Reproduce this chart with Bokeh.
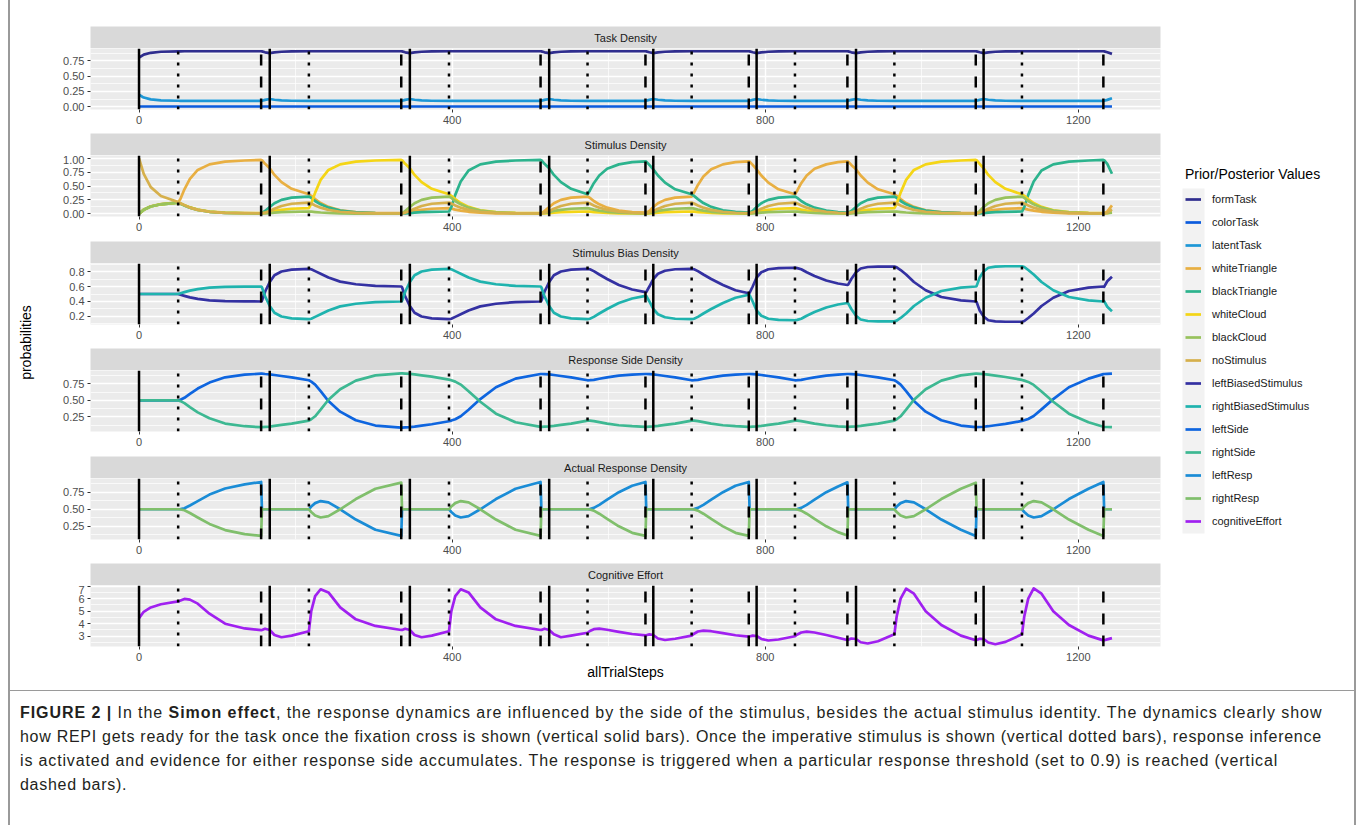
from bokeh.plotting import figure
from bokeh.models import (Range1d, FixedTicker, NumeralTickFormatter, Label, Legend,
                          LegendItem, BoxAnnotation, Div)
from bokeh.layouts import row, column
from bokeh.embed import file_html
from bokeh.resources import INLINE

# ------------------------------------------------------------------ data
steps = [
    0, 6, 15, 28, 50, 53, 58, 65, 75, 90, 110, 135, 156, 157, 161,
    167, 173, 182, 195, 217, 220, 225, 232, 242, 257, 277, 302, 335, 336, 340,
    346, 352, 361, 374, 396, 399, 404, 411, 421, 436, 456, 481, 513, 514, 518,
    524, 530, 539, 552, 573, 576, 581, 588, 598, 613, 630, 647, 648, 652,
    657, 663, 672, 685, 706, 709, 714, 721, 731, 746, 762, 779, 780, 784,
    789, 795, 804, 817, 838, 841, 846, 853, 863, 878, 893, 905, 906, 910,
    916, 922, 931, 944, 965, 968, 973, 980, 990, 1005, 1025, 1050, 1069, 1070, 1074,
    1079, 1085, 1094, 1107, 1128, 1131, 1136, 1143, 1153, 1168, 1188, 1213, 1232, 1233, 1237, 1243,
]
fixation_steps = [0, 167, 346, 524, 657, 789, 916, 1079]
stimulus_steps = [50, 217, 396, 573, 706, 838, 965, 1128]
response_steps = [156, 335, 513, 647, 779, 905, 1069, 1232]

formTask = [
    0.800, 0.850, 0.880, 0.897, 0.903, 0.904, 0.905, 0.905, 0.905, 0.905, 0.905, 0.905, 0.905, 0.903, 0.888,
    0.874, 0.886, 0.897, 0.903, 0.905, 0.905, 0.905, 0.905, 0.905, 0.905, 0.905, 0.905, 0.905, 0.903, 0.888,
    0.874, 0.886, 0.897, 0.903, 0.905, 0.905, 0.905, 0.905, 0.905, 0.905, 0.905, 0.905, 0.905, 0.903, 0.888,
    0.874, 0.886, 0.897, 0.903, 0.905, 0.905, 0.905, 0.905, 0.905, 0.905, 0.905, 0.905, 0.903, 0.888,
    0.874, 0.886, 0.897, 0.903, 0.905, 0.905, 0.905, 0.905, 0.905, 0.905, 0.905, 0.905, 0.903, 0.888,
    0.874, 0.886, 0.897, 0.903, 0.905, 0.905, 0.905, 0.905, 0.905, 0.905, 0.905, 0.905, 0.903, 0.888,
    0.874, 0.886, 0.897, 0.903, 0.905, 0.905, 0.905, 0.905, 0.905, 0.905, 0.905, 0.905, 0.905, 0.903, 0.888,
    0.874, 0.886, 0.897, 0.903, 0.905, 0.905, 0.905, 0.905, 0.905, 0.905, 0.905, 0.905, 0.905, 0.903, 0.888, 0.862,
]
colorTask_steps = [0, 1243]
colorTask = [0.004, 0.004]
latentTask = [
    0.195, 0.150, 0.120, 0.104, 0.098, 0.097, 0.096, 0.095, 0.095, 0.095, 0.095, 0.095, 0.095, 0.097, 0.112,
    0.126, 0.114, 0.103, 0.098, 0.095, 0.095, 0.095, 0.095, 0.095, 0.095, 0.095, 0.095, 0.095, 0.097, 0.112,
    0.126, 0.114, 0.103, 0.098, 0.095, 0.095, 0.095, 0.095, 0.095, 0.095, 0.095, 0.095, 0.095, 0.097, 0.112,
    0.126, 0.114, 0.103, 0.098, 0.095, 0.095, 0.095, 0.095, 0.095, 0.095, 0.095, 0.095, 0.097, 0.112,
    0.126, 0.114, 0.103, 0.098, 0.095, 0.095, 0.095, 0.095, 0.095, 0.095, 0.095, 0.095, 0.097, 0.112,
    0.126, 0.114, 0.103, 0.098, 0.095, 0.095, 0.095, 0.095, 0.095, 0.095, 0.095, 0.095, 0.097, 0.112,
    0.126, 0.114, 0.103, 0.098, 0.095, 0.095, 0.095, 0.095, 0.095, 0.095, 0.095, 0.095, 0.095, 0.097, 0.112,
    0.126, 0.114, 0.103, 0.098, 0.095, 0.095, 0.095, 0.095, 0.095, 0.095, 0.095, 0.095, 0.095, 0.097, 0.112, 0.138,
]

whiteTriangle = [
    0.000, 0.074, 0.134, 0.174, 0.204, 0.270, 0.440, 0.630, 0.790, 0.890, 0.940, 0.960, 0.970, 0.965, 0.900,
    0.820, 0.700, 0.570, 0.450, 0.350, 0.322, 0.263, 0.193, 0.123, 0.063, 0.028, 0.014, 0.011, 0.011, 0.015,
    0.030, 0.050, 0.070, 0.090, 0.100, 0.092, 0.075, 0.055, 0.035, 0.018, 0.008, 0.004, 0.003, 0.003, 0.050,
    0.120, 0.190, 0.250, 0.290, 0.310, 0.285, 0.230, 0.170, 0.110, 0.056, 0.028, 0.019, 0.019, 0.050,
    0.120, 0.190, 0.250, 0.290, 0.310, 0.380, 0.520, 0.670, 0.800, 0.890, 0.930, 0.945, 0.940, 0.880,
    0.800, 0.690, 0.560, 0.440, 0.350, 0.420, 0.550, 0.690, 0.810, 0.890, 0.930, 0.945, 0.940, 0.880,
    0.800, 0.690, 0.560, 0.440, 0.350, 0.322, 0.263, 0.193, 0.123, 0.063, 0.028, 0.014, 0.011, 0.011, 0.015,
    0.030, 0.050, 0.070, 0.090, 0.100, 0.092, 0.075, 0.055, 0.035, 0.018, 0.008, 0.004, 0.003, 0.003, 0.040, 0.150,
]
blackTriangle = [
    0.000, 0.070, 0.130, 0.170, 0.200, 0.180, 0.150, 0.110, 0.070, 0.035, 0.016, 0.009, 0.007, 0.008, 0.050,
    0.120, 0.190, 0.250, 0.290, 0.310, 0.285, 0.230, 0.170, 0.110, 0.056, 0.025, 0.012, 0.009, 0.009, 0.008,
    0.010, 0.020, 0.030, 0.035, 0.040, 0.120, 0.340, 0.580, 0.780, 0.890, 0.940, 0.960, 0.970, 0.965, 0.900,
    0.820, 0.700, 0.570, 0.450, 0.350, 0.420, 0.550, 0.690, 0.810, 0.890, 0.930, 0.945, 0.940, 0.880,
    0.800, 0.690, 0.560, 0.440, 0.350, 0.322, 0.263, 0.193, 0.123, 0.063, 0.032, 0.021, 0.021, 0.050,
    0.120, 0.190, 0.250, 0.290, 0.310, 0.285, 0.230, 0.170, 0.110, 0.056, 0.028, 0.019, 0.019, 0.050,
    0.120, 0.190, 0.250, 0.290, 0.310, 0.285, 0.230, 0.170, 0.110, 0.056, 0.025, 0.012, 0.009, 0.009, 0.008,
    0.010, 0.020, 0.030, 0.035, 0.040, 0.120, 0.340, 0.580, 0.780, 0.890, 0.940, 0.960, 0.970, 0.965, 0.900, 0.720,
]
whiteCloud = [
    0.000, 0.070, 0.130, 0.170, 0.200, 0.185, 0.155, 0.115, 0.075, 0.040, 0.020, 0.012, 0.010, 0.010, 0.015,
    0.030, 0.050, 0.070, 0.090, 0.100, 0.180, 0.380, 0.610, 0.790, 0.890, 0.940, 0.960, 0.970, 0.965, 0.900,
    0.820, 0.700, 0.570, 0.450, 0.350, 0.322, 0.263, 0.193, 0.123, 0.063, 0.028, 0.014, 0.011, 0.011, 0.008,
    0.010, 0.020, 0.030, 0.035, 0.040, 0.037, 0.030, 0.022, 0.014, 0.007, 0.004, 0.002, 0.002, 0.005,
    0.010, 0.020, 0.030, 0.035, 0.040, 0.037, 0.030, 0.022, 0.014, 0.007, 0.004, 0.002, 0.002, 0.015,
    0.030, 0.050, 0.070, 0.090, 0.100, 0.092, 0.075, 0.055, 0.035, 0.018, 0.009, 0.006, 0.006, 0.015,
    0.030, 0.050, 0.070, 0.090, 0.100, 0.180, 0.380, 0.610, 0.790, 0.890, 0.940, 0.960, 0.970, 0.965, 0.900,
    0.820, 0.700, 0.570, 0.450, 0.350, 0.322, 0.263, 0.193, 0.123, 0.063, 0.028, 0.014, 0.011, 0.011, 0.012, 0.030,
]
blackCloud = [
    0.000, 0.070, 0.130, 0.170, 0.200, 0.180, 0.150, 0.110, 0.070, 0.035, 0.016, 0.009, 0.007, 0.007, 0.008,
    0.010, 0.020, 0.030, 0.035, 0.040, 0.037, 0.030, 0.022, 0.014, 0.007, 0.003, 0.002, 0.001, 0.001, 0.050,
    0.120, 0.190, 0.250, 0.290, 0.310, 0.285, 0.230, 0.170, 0.110, 0.056, 0.025, 0.012, 0.009, 0.009, 0.015,
    0.030, 0.050, 0.070, 0.090, 0.100, 0.092, 0.075, 0.055, 0.035, 0.018, 0.009, 0.006, 0.006, 0.015,
    0.030, 0.050, 0.070, 0.090, 0.100, 0.092, 0.075, 0.055, 0.035, 0.018, 0.009, 0.006, 0.006, 0.005,
    0.010, 0.020, 0.030, 0.035, 0.040, 0.037, 0.030, 0.022, 0.014, 0.007, 0.004, 0.002, 0.002, 0.005,
    0.010, 0.020, 0.030, 0.035, 0.040, 0.037, 0.030, 0.022, 0.014, 0.007, 0.003, 0.002, 0.001, 0.001, 0.050,
    0.120, 0.190, 0.250, 0.290, 0.310, 0.285, 0.230, 0.170, 0.110, 0.056, 0.025, 0.012, 0.009, 0.009, 0.012, 0.020,
]
noStimulus = [
    1.000, 0.720, 0.480, 0.320, 0.210, 0.190, 0.155, 0.110, 0.070, 0.035, 0.017, 0.010, 0.008, 0.008, 0.020,
    0.050, 0.090, 0.140, 0.180, 0.200, 0.184, 0.150, 0.110, 0.070, 0.036, 0.016, 0.008, 0.006, 0.006, 0.020,
    0.050, 0.090, 0.140, 0.180, 0.200, 0.184, 0.150, 0.110, 0.070, 0.036, 0.016, 0.008, 0.006, 0.006, 0.020,
    0.050, 0.090, 0.140, 0.180, 0.200, 0.184, 0.150, 0.110, 0.070, 0.036, 0.018, 0.012, 0.012, 0.025,
    0.050, 0.090, 0.140, 0.180, 0.200, 0.184, 0.150, 0.110, 0.070, 0.036, 0.018, 0.012, 0.012, 0.025,
    0.050, 0.090, 0.140, 0.180, 0.200, 0.184, 0.150, 0.110, 0.070, 0.036, 0.018, 0.012, 0.012, 0.025,
    0.050, 0.090, 0.140, 0.180, 0.200, 0.184, 0.150, 0.110, 0.070, 0.036, 0.016, 0.008, 0.006, 0.006, 0.020,
    0.050, 0.090, 0.140, 0.180, 0.200, 0.184, 0.150, 0.110, 0.070, 0.036, 0.016, 0.008, 0.006, 0.006, 0.020, 0.080,
]

leftBiasedStimulus = [
    0.500, 0.500, 0.500, 0.500, 0.500, 0.490, 0.475, 0.455, 0.435, 0.415, 0.405, 0.401, 0.400, 0.410, 0.530,
    0.660, 0.750, 0.800, 0.825, 0.835, 0.830, 0.805, 0.770, 0.720, 0.665, 0.630, 0.608, 0.600, 0.590, 0.470,
    0.340, 0.250, 0.200, 0.175, 0.165, 0.170, 0.195, 0.230, 0.280, 0.335, 0.370, 0.392, 0.400, 0.410, 0.530,
    0.660, 0.750, 0.800, 0.825, 0.835, 0.830, 0.805, 0.760, 0.700, 0.620, 0.560, 0.525, 0.525, 0.600,
    0.700, 0.770, 0.810, 0.830, 0.835, 0.830, 0.805, 0.760, 0.700, 0.620, 0.550, 0.510, 0.515, 0.600,
    0.720, 0.790, 0.830, 0.845, 0.850, 0.845, 0.830, 0.790, 0.740, 0.680, 0.640, 0.620, 0.625, 0.700,
    0.790, 0.840, 0.860, 0.865, 0.865, 0.855, 0.820, 0.760, 0.660, 0.550, 0.460, 0.415, 0.400, 0.395, 0.280,
    0.200, 0.150, 0.135, 0.130, 0.130, 0.140, 0.180, 0.240, 0.340, 0.450, 0.540, 0.585, 0.600, 0.595, 0.670, 0.730,
]
rightBiasedStimulus = [
    0.500, 0.500, 0.500, 0.500, 0.500, 0.510, 0.525, 0.545, 0.565, 0.585, 0.595, 0.599, 0.600, 0.590, 0.470,
    0.340, 0.250, 0.200, 0.175, 0.165, 0.170, 0.195, 0.230, 0.280, 0.335, 0.370, 0.392, 0.400, 0.410, 0.530,
    0.660, 0.750, 0.800, 0.825, 0.835, 0.830, 0.805, 0.770, 0.720, 0.665, 0.630, 0.608, 0.600, 0.590, 0.470,
    0.340, 0.250, 0.200, 0.175, 0.165, 0.170, 0.195, 0.240, 0.300, 0.380, 0.440, 0.475, 0.475, 0.400,
    0.300, 0.230, 0.190, 0.170, 0.165, 0.170, 0.195, 0.240, 0.300, 0.380, 0.450, 0.490, 0.485, 0.400,
    0.280, 0.210, 0.170, 0.155, 0.150, 0.155, 0.170, 0.210, 0.260, 0.320, 0.360, 0.380, 0.375, 0.300,
    0.210, 0.160, 0.140, 0.135, 0.135, 0.145, 0.180, 0.240, 0.340, 0.450, 0.540, 0.585, 0.600, 0.605, 0.720,
    0.800, 0.850, 0.865, 0.870, 0.870, 0.860, 0.820, 0.760, 0.660, 0.550, 0.460, 0.415, 0.400, 0.405, 0.330, 0.270,
]

leftSide = [
    0.500, 0.500, 0.500, 0.500, 0.500, 0.510, 0.540, 0.600, 0.680, 0.770, 0.850, 0.890, 0.905, 0.905, 0.900,
    0.895, 0.885, 0.870, 0.850, 0.805, 0.785, 0.740, 0.640, 0.490, 0.330, 0.200, 0.120, 0.090, 0.090, 0.093,
    0.097, 0.105, 0.120, 0.140, 0.185, 0.195, 0.215, 0.260, 0.360, 0.520, 0.700, 0.830, 0.900, 0.900, 0.897,
    0.893, 0.885, 0.870, 0.850, 0.805, 0.806, 0.812, 0.828, 0.850, 0.875, 0.890, 0.900, 0.900, 0.897,
    0.893, 0.885, 0.870, 0.850, 0.805, 0.806, 0.812, 0.828, 0.850, 0.875, 0.890, 0.900, 0.900, 0.897,
    0.893, 0.885, 0.870, 0.850, 0.805, 0.806, 0.812, 0.828, 0.850, 0.875, 0.892, 0.900, 0.900, 0.897,
    0.893, 0.885, 0.870, 0.850, 0.805, 0.785, 0.740, 0.640, 0.490, 0.330, 0.200, 0.120, 0.095, 0.095, 0.098,
    0.102, 0.110, 0.125, 0.145, 0.190, 0.200, 0.220, 0.265, 0.365, 0.520, 0.700, 0.830, 0.898, 0.900, 0.902, 0.905,
]
rightSide = [
    0.500, 0.500, 0.500, 0.500, 0.500, 0.490, 0.460, 0.400, 0.320, 0.230, 0.150, 0.110, 0.095, 0.095, 0.100,
    0.105, 0.115, 0.130, 0.150, 0.195, 0.215, 0.260, 0.360, 0.510, 0.670, 0.800, 0.880, 0.910, 0.910, 0.907,
    0.903, 0.895, 0.880, 0.860, 0.815, 0.805, 0.785, 0.740, 0.640, 0.480, 0.300, 0.170, 0.100, 0.100, 0.103,
    0.107, 0.115, 0.130, 0.150, 0.195, 0.194, 0.188, 0.172, 0.150, 0.125, 0.110, 0.100, 0.100, 0.103,
    0.107, 0.115, 0.130, 0.150, 0.195, 0.194, 0.188, 0.172, 0.150, 0.125, 0.110, 0.100, 0.100, 0.103,
    0.107, 0.115, 0.130, 0.150, 0.195, 0.194, 0.188, 0.172, 0.150, 0.125, 0.108, 0.100, 0.100, 0.103,
    0.107, 0.115, 0.130, 0.150, 0.195, 0.215, 0.260, 0.360, 0.510, 0.670, 0.800, 0.880, 0.905, 0.905, 0.902,
    0.898, 0.890, 0.875, 0.855, 0.810, 0.800, 0.780, 0.735, 0.635, 0.480, 0.300, 0.170, 0.102, 0.100, 0.098, 0.095,
]

leftResp = [
    0.500, 0.500, 0.500, 0.500, 0.500, 0.503, 0.515, 0.555, 0.620, 0.715, 0.805, 0.865, 0.900, 0.500, 0.500,
    0.500, 0.500, 0.500, 0.500, 0.500, 0.540, 0.590, 0.620, 0.600, 0.500, 0.350, 0.200, 0.110, 0.500, 0.500,
    0.500, 0.500, 0.500, 0.500, 0.500, 0.460, 0.410, 0.380, 0.400, 0.500, 0.650, 0.800, 0.900, 0.500, 0.500,
    0.500, 0.500, 0.500, 0.500, 0.500, 0.503, 0.520, 0.565, 0.640, 0.750, 0.845, 0.900, 0.500, 0.500,
    0.500, 0.500, 0.500, 0.500, 0.500, 0.503, 0.520, 0.565, 0.640, 0.750, 0.845, 0.900, 0.500, 0.500,
    0.500, 0.500, 0.500, 0.500, 0.500, 0.503, 0.520, 0.565, 0.640, 0.750, 0.835, 0.895, 0.500, 0.500,
    0.500, 0.500, 0.500, 0.500, 0.500, 0.540, 0.590, 0.620, 0.600, 0.500, 0.350, 0.200, 0.110, 0.500, 0.500,
    0.500, 0.500, 0.500, 0.500, 0.500, 0.460, 0.410, 0.380, 0.400, 0.500, 0.650, 0.800, 0.900, 0.500, 0.500, 0.500,
]
rightResp = [
    0.500, 0.500, 0.500, 0.500, 0.500, 0.497, 0.485, 0.445, 0.380, 0.285, 0.195, 0.135, 0.110, 0.500, 0.500,
    0.500, 0.500, 0.500, 0.500, 0.500, 0.460, 0.410, 0.380, 0.400, 0.500, 0.650, 0.800, 0.890, 0.500, 0.500,
    0.500, 0.500, 0.500, 0.500, 0.500, 0.540, 0.590, 0.620, 0.600, 0.500, 0.350, 0.200, 0.110, 0.500, 0.500,
    0.500, 0.500, 0.500, 0.500, 0.500, 0.497, 0.480, 0.435, 0.360, 0.250, 0.155, 0.110, 0.500, 0.500,
    0.500, 0.500, 0.500, 0.500, 0.500, 0.497, 0.480, 0.435, 0.360, 0.250, 0.155, 0.110, 0.500, 0.500,
    0.500, 0.500, 0.500, 0.500, 0.500, 0.497, 0.480, 0.435, 0.360, 0.250, 0.165, 0.115, 0.500, 0.500,
    0.500, 0.500, 0.500, 0.500, 0.500, 0.460, 0.410, 0.380, 0.400, 0.500, 0.650, 0.800, 0.890, 0.500, 0.500,
    0.500, 0.500, 0.500, 0.500, 0.500, 0.540, 0.590, 0.620, 0.600, 0.500, 0.350, 0.200, 0.110, 0.500, 0.500, 0.500,
]

cognitiveEffort = [
    4.45, 4.95, 5.30, 5.55, 5.78, 5.85, 5.98, 5.92, 5.60, 4.80, 4.00, 3.62, 3.48, 3.50, 3.60,
    3.50, 3.10, 2.92, 3.05, 3.40, 5.00, 6.20, 6.75, 6.50, 5.30, 4.35, 3.82, 3.50, 3.50, 3.60,
    3.50, 3.10, 2.92, 3.05, 3.40, 5.00, 6.20, 6.75, 6.50, 5.30, 4.35, 3.82, 3.50, 3.50, 3.60,
    3.50, 3.15, 2.92, 3.05, 3.28, 3.42, 3.56, 3.60, 3.52, 3.35, 3.18, 3.07, 3.08, 3.15,
    3.10, 2.82, 2.70, 2.80, 3.05, 3.20, 3.38, 3.45, 3.40, 3.25, 3.08, 2.97, 2.98, 3.05,
    3.02, 2.78, 2.66, 2.74, 3.00, 3.14, 3.30, 3.37, 3.30, 3.10, 2.88, 2.70, 2.72, 2.82,
    2.78, 2.52, 2.42, 2.60, 3.15, 4.60, 6.00, 6.80, 6.40, 5.00, 3.90, 3.05, 2.68, 2.70, 2.80,
    2.78, 2.50, 2.36, 2.55, 3.15, 4.60, 6.00, 6.82, 6.40, 5.00, 3.90, 3.05, 2.67, 2.68, 2.75, 2.85,
]

series_names = ["formTask", "colorTask", "latentTask", "whiteTriangle", "blackTriangle",
                "whiteCloud", "blackCloud", "noStimulus", "leftBiasedStimulus",
                "rightBiasedStimulus", "leftSide", "rightSide", "leftResp", "rightResp",
                "cognitiveEffort"]
series_colors = ["#2F2D8E", "#0B5BDD", "#1D97D6", "#E8AF42", "#2CB38D",
                 "#F4D516", "#98C25D", "#D6B04C", "#3431A2",
                 "#1FB3AE", "#0E65DF", "#3DB892", "#1A8CD6", "#80BF6C",
                 "#A020F0"]

panel_titles = ["Task Density", "Stimulus Density", "Stimulus Bias Density",
                "Response Side Density", "Actual Response Density", "Cognitive Effort"]
panel_series = [["formTask", "colorTask", "latentTask"],
                ["whiteTriangle", "blackTriangle", "whiteCloud", "blackCloud", "noStimulus"],
                ["leftBiasedStimulus", "rightBiasedStimulus"],
                ["leftSide", "rightSide"],
                ["leftResp", "rightResp"],
                ["cognitiveEffort"]]
panel_ylims = [(-0.045, 0.95), (-0.05, 1.05), (0.093, 0.907), (0.03, 0.953), (0.057, 0.951), (2.18, 7.05)]
panel_yticks = [[0, 0.25, 0.5, 0.75], [0, 0.25, 0.5, 0.75, 1.0], [0.2, 0.4, 0.6, 0.8],
                [0.25, 0.5, 0.75], [0.25, 0.5, 0.75], [3, 4, 5, 6, 7]]
panel_yminor = [[0.125, 0.375, 0.625, 0.875], [0.125, 0.375, 0.625, 0.875], [0.1, 0.3, 0.5, 0.7, 0.9],
                [0.125, 0.375, 0.625, 0.875], [0.125, 0.375, 0.625, 0.875], [2.5, 3.5, 4.5, 5.5, 6.5]]
panel_yformat = ["0.00", "0.00", "0.0", "0.00", "0.00", "0"]
x_ticks = [0, 400, 800, 1200]
x_minor = [200, 600, 1000]
x_limits = (-62, 1305)

caption_lines = [
    "<b>FIGURE 2 |</b> In the <b>Simon effect</b>, the response dynamics are influenced by the side of the stimulus, besides the actual stimulus identity. The dynamics clearly show",
    "how REPI gets ready for the task once the fixation cross is shown (vertical solid bars). Once the imperative stimulus is shown (vertical dotted bars), response inference",
    "is activated and evidence for either response side accumulates. The response is triggered when a particular response threshold (set to 0.9) is reached (vertical",
    "dashed bars).",
]
caption_spacing = [0.94, 0.72, 0.85, 0.72]

values = dict(formTask=formTask, colorTask=colorTask, latentTask=latentTask,
              whiteTriangle=whiteTriangle, blackTriangle=blackTriangle, whiteCloud=whiteCloud,
              blackCloud=blackCloud, noStimulus=noStimulus, leftBiasedStimulus=leftBiasedStimulus,
              rightBiasedStimulus=rightBiasedStimulus, leftSide=leftSide, rightSide=rightSide,
              leftResp=leftResp, rightResp=rightResp, cognitiveEffort=cognitiveEffort)
xvalues = {k: steps for k in values}
xvalues["colorTask"] = colorTask_steps
for k in values:
    assert len(values[k]) == len(xvalues[k]), (k, len(values[k]), len(xvalues[k]))
color_of = dict(zip(series_names, series_colors))

# ------------------------------------------------------------------ layout
FONT = "Liberation Sans"
FW = 1070          # panel width
ML, MR = 52, 10    # borders left / right of panels
STRIP_H, PANEL_H = 22, 61
strip_top = [26, 0, 0, 0, 0, 0]
panel_bottom = [24, 25, 24, 25, 24, 44]
TOTAL_H = 690
xr = Range1d(*x_limits)


def style_axis(ax):
    ax.axis_line_color = None
    ax.major_tick_line_color = "#333333"
    ax.major_tick_line_width = 1
    ax.major_tick_out = 3
    ax.major_tick_in = 0
    ax.minor_tick_line_color = None
    ax.major_label_text_font = FONT
    ax.major_label_text_font_size = "11px"
    ax.major_label_text_color = "#4D4D4D"
    ax.major_label_standoff = 2


stack = []
for i, title in enumerate(panel_titles):
    s = figure(frame_width=FW, frame_height=STRIP_H, min_border_left=ML, min_border_right=MR,
               min_border_top=strip_top[i], min_border_bottom=0,
               x_range=Range1d(0, 1), y_range=Range1d(0, 1), x_axis_type=None, y_axis_type=None,
               toolbar_location=None, output_backend="svg",
               background_fill_color="#D9D9D9", border_fill_color="white", outline_line_color=None)
    s.add_layout(Label(x=0.5, y=0.5, text=title, text_align="center", text_baseline="middle",
                       text_font=FONT, text_font_size="11px", text_color="#1A1A1A"))
    stack.append(s)

    lo, hi = panel_ylims[i]
    p = figure(frame_width=FW, frame_height=PANEL_H, min_border_left=ML, min_border_right=MR,
               min_border_top=0, min_border_bottom=panel_bottom[i],
               x_range=xr, y_range=Range1d(lo, hi), toolbar_location=None, output_backend="svg",
               background_fill_color="#EBEBEB", border_fill_color="white", outline_line_color=None)
    p.xaxis.ticker = FixedTicker(ticks=x_ticks, minor_ticks=x_minor)
    p.yaxis.ticker = FixedTicker(ticks=panel_yticks[i], minor_ticks=panel_yminor[i])
    p.yaxis.formatter = NumeralTickFormatter(format=panel_yformat[i])
    for g in (p.xgrid, p.ygrid):
        g.grid_line_color = "white"
        g.grid_line_width = 1.4
        g.minor_grid_line_color = "white"
        g.minor_grid_line_width = 0.7
    style_axis(p.xaxis[0])
    style_axis(p.yaxis[0])
    if i == len(panel_titles) - 1:
        p.xaxis.axis_label = "allTrialSteps"
        p.xaxis.axis_label_text_font = FONT
        p.xaxis.axis_label_text_font_size = "14px"
        p.xaxis.axis_label_text_font_style = "normal"
        p.xaxis.axis_label_text_color = "black"
        p.xaxis.axis_label_standoff = 0
        p.xaxis.axis_label_text_line_height = 1.0
        p.xaxis.major_label_text_line_height = 1.0

    for name in panel_series[i]:
        p.line(xvalues[name], values[name], line_color=color_of[name], line_width=2.7,
               line_join="round")

    for ev, dash in ((fixation_steps, "solid"), (stimulus_steps, "3 8"), (response_steps, "11 11")):
        n = len(ev)
        p.segment(x0=ev, x1=ev, y0=[lo] * n, y1=[hi] * n, line_color="black",
                  line_width=2.5, line_dash=dash)
    stack.append(p)

chart_col = column(*stack)

# y-axis title
ylab = figure(frame_width=28, frame_height=TOTAL_H, min_border=0, min_border_left=0,
              min_border_right=0, min_border_top=0, min_border_bottom=0,
              x_range=Range1d(0, 28), y_range=Range1d(0, TOTAL_H), x_axis_type=None, y_axis_type=None,
              toolbar_location=None, output_backend="svg", outline_line_color=None,
              background_fill_color="white", border_fill_color="white")
ylab.add_layout(Label(x=15, y=TOTAL_H - 342, text="probabilities", angle=1.5707963,
                      text_align="center", text_baseline="middle", text_font=FONT,
                      text_font_size="14px", text_color="black"))

# legend
LW = 184
leg = figure(frame_width=LW, frame_height=TOTAL_H, min_border=0, min_border_left=0,
             min_border_right=0, min_border_top=0, min_border_bottom=0,
             x_range=Range1d(0, LW), y_range=Range1d(0, TOTAL_H), x_axis_type=None, y_axis_type=None,
             toolbar_location=None, output_backend="svg", outline_line_color=None,
             background_fill_color="white", border_fill_color="white")
leg.add_layout(BoxAnnotation(left=12, right=34, bottom=TOTAL_H - 533, top=TOTAL_H - 188,
                             fill_color="#F2F2F2", fill_alpha=1.0, line_color=None, level="underlay"))
items = []
for name, col in zip(series_names, series_colors):
    r = leg.line(x=[float("nan")], y=[float("nan")], line_color=col, line_width=2.7)
    items.append(LegendItem(label=name, renderers=[r]))
legend = Legend(items=items, location=(15, TOTAL_H - 532), title="Prior/Posterior Values",
                title_text_font=FONT, title_text_font_size="14px", title_text_font_style="normal",
                title_text_color="black", title_standoff=6,
                label_text_font=FONT, label_text_font_size="11px", label_text_color="#1A1A1A",
                glyph_width=16, glyph_height=22, label_height=22, label_standoff=11, spacing=1,
                padding=0, margin=0, border_line_color=None, background_fill_alpha=0)
leg.add_layout(legend)

top_row = row(ylab, chart_col, leg)

INNER_W = 28 + ML + FW + MR + LW
cap_body = "<br>".join('<span style="letter-spacing:%.2fpx">%s</span>' % (ls, ln)
                       for ls, ln in zip(caption_spacing, caption_lines))
cap_html = ('<div style="font-family:\'Liberation Sans\',Arial,sans-serif;font-size:16px;'
            'line-height:24px;color:#231F20;padding:10px 0 0 10px;'
            'white-space:nowrap;">' + cap_body + "</div>")
caption = Div(text=cap_html, width=INNER_W, height=825 - TOTAL_H - 1, margin=0)
hline = Div(text="", width=INNER_W, height=1, margin=0, styles={"background-color": "#9A9A9A"})
inner = column(top_row, hline, caption)
vl = Div(text="", width=2, height=825, margin=(0, 0, 0, 8), styles={"background-color": "#9A9A9A"})
vr = Div(text="", width=2, height=825, margin=0, styles={"background-color": "#9A9A9A"})
page = row(vl, inner, vr)

open("out.html", "w").write(file_html(page, INLINE, title="Simon effect"))
